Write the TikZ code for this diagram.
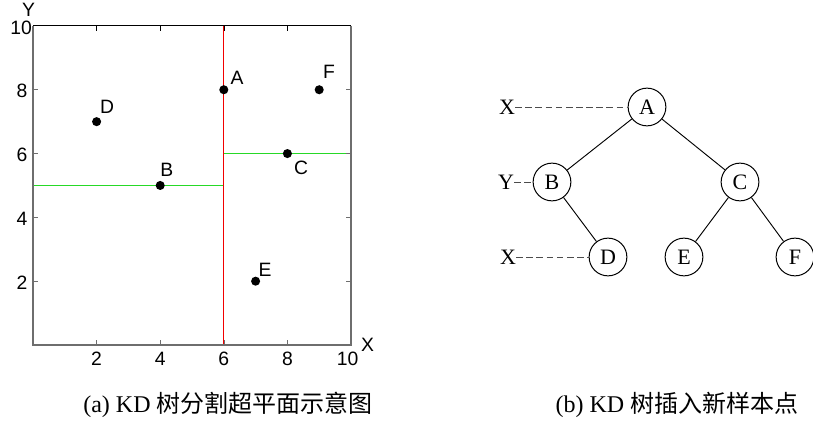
\documentclass[tikz,border=0pt]{standalone}
\usepackage{fontspec}
\setmainfont{Liberation Serif}
\newfontfamily\plotfont{Liberation Sans}
\newfontfamily\cjk{Noto Sans CJK SC}
\usetikzlibrary{positioning}
\definecolor{splitgreen}{rgb}{0.15,0.85,0.15}
\definecolor{splitred}{rgb}{0.95,0,0}
\definecolor{axisgray}{rgb}{0.43,0.43,0.43}
\tikzset{
  kdpoint/.style={circle,fill=black,inner sep=0pt,minimum size=6.8pt},
  ptlabel/.style={font=\plotfont\fontsize{14.5}{16}\selectfont,inner sep=0pt},
  ticklabel/.style={font=\plotfont\fontsize{14.5}{16}\selectfont,inner sep=0pt},
  treenode/.style={circle,draw,line width=0.75pt,minimum size=28.3pt,inner sep=0pt,
    font=\fontsize{16.5}{18}\selectfont},
  treeedge/.style={line width=0.7pt},
  levellabel/.style={font=\fontsize{16.5}{18}\selectfont,inner sep=0pt},
  levelline/.style={dash pattern=on 5pt off 2.6pt,line width=0.7pt,black!70},
  subcaption/.style={font=\fontsize{18}{20}\selectfont,inner sep=0pt}
}
\begin{document}
\begin{tikzpicture}[x=0.75pt,y=-0.75pt]
  \useasboundingbox (0,0) rectangle (813,441);
  % (a) split planes
  \begin{scope}[shift={(33,345)},x=23.85pt,y=23.93pt]
    \draw[color=splitgreen,line width=1pt] (0,5) -- (6,5);
    \draw[color=splitgreen,line width=1pt] (6,6) -- (10,6);
    \draw[color=splitred,line width=0.9pt] (6,0) -- (6,10);
    \draw[axisgray,line width=0.9pt] (10,10) -- (10,0) -- (0,0) -- (0,10);
    \draw[line width=0.75pt] (0,10) -- (10,10);
    \foreach \t in {2,4,6,8} {
      \draw[axisgray] (\t,0) -- ++(0,0.15);
      \draw (\t,10) -- ++(0,-0.15);
      \draw[axisgray] (0,\t) -- ++(0.15,0);
      \draw[axisgray] (10,\t) -- ++(-0.15,0);
      \node[ticklabel,anchor=north] at (\t,-0.22) {\t};
      \node[ticklabel,anchor=east] at (-0.17,\t-0.05) {\t};
    }
    \node[ticklabel,anchor=north] at (9.89,-0.22) {10};
    \node[ticklabel,anchor=east] at (-0.03,9.95) {10};
    \node[ticklabel] (xaxis) at (10.52,0) {X};
    \node[ticklabel] (yaxis) at (-0.14,10.5) {Y};
    % sample points
    \node[kdpoint] (pA) at (6,8) {};
    \node[kdpoint] (pB) at (4,5) {};
    \node[kdpoint] (pC) at (8,6) {};
    \node[kdpoint] (pD) at (2,7) {};
    \node[kdpoint] (pE) at (7,2) {};
    \node[kdpoint] (pF) at (9,8) {};
    \node[ptlabel] (lA) at (6.42,8.37) {A};
    \node[ptlabel] (lB) at (4.21,5.49) {B};
    \node[ptlabel] (lC) at (8.43,5.55) {C};
    \node[ptlabel] (lD) at (2.33,7.46) {D};
    \node[ptlabel] (lE) at (7.30,2.35) {E};
    \node[ptlabel] (lF) at (9.31,8.56) {F};
  \end{scope}
  % (b) kd tree
  \node[treenode] (A) at (647,107) {A};
  \node[treenode] (B) at (552,182) {B};
  \node[treenode] (C) at (740,182) {C};
  \node[treenode] (D) at (608,257) {D};
  \node[treenode] (E) at (684,257) {E};
  \node[treenode] (F) at (795,257) {F};
  \draw[treeedge] (A) -- (B);
  \draw[treeedge] (A) -- (C);
  \draw[treeedge] (B) -- (D);
  \draw[treeedge] (C) -- (E);
  \draw[treeedge] (C) -- (F);
  \node[levellabel] (lvA) at (507,107) {X};
  \node[levellabel] (lvB) at (506,182) {Y};
  \node[levellabel] (lvD) at (508,257) {X};
  \draw[levelline] (lvA) -- (A);
  \draw[levelline] (lvB) -- (B);
  \draw[levelline] (lvD) -- (D);
  % captions
  \node[subcaption] (capa) at (228,405) {(a) KD {\cjk 树分割超平面示意图}};
  \node[subcaption] (capb) at (677,405) {(b) KD {\cjk 树插入新样本点}};
\end{tikzpicture}
\end{document}
